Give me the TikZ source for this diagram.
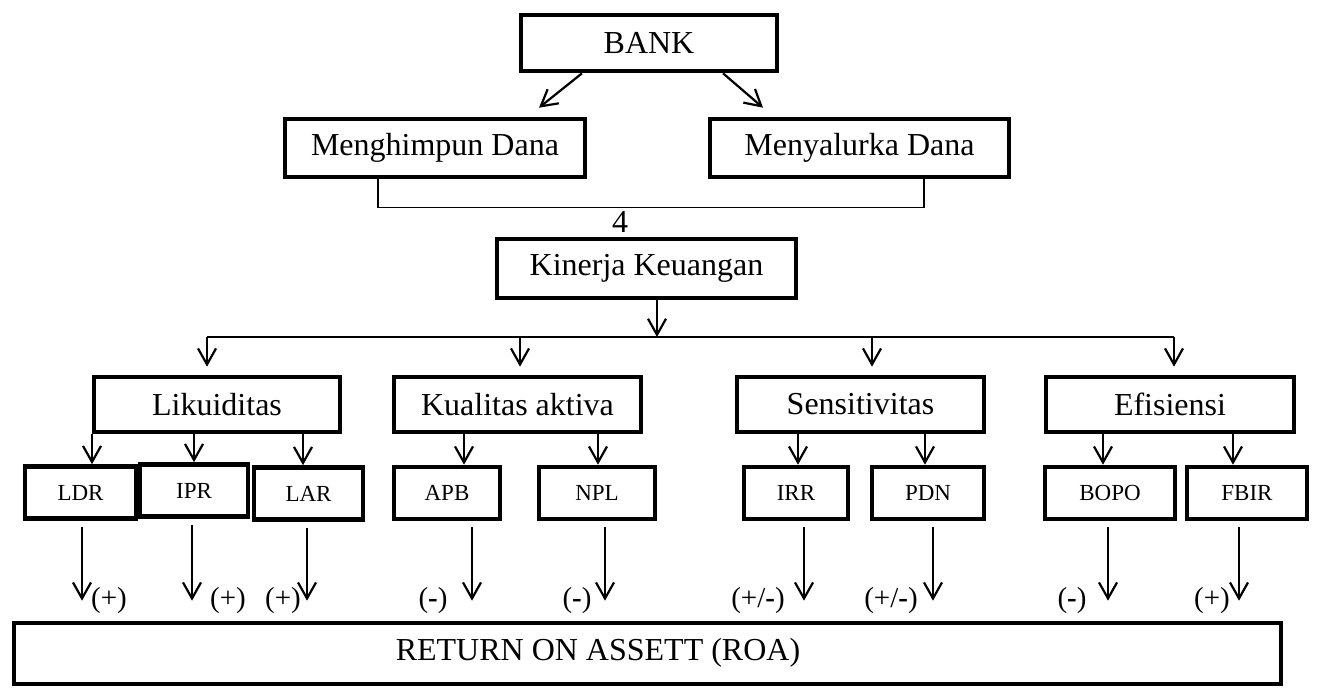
\documentclass[tikz,border=0pt]{standalone}
\usepackage{fontspec}
\setmainfont{Liberation Serif}
\usetikzlibrary{arrows.meta}
\tikzset{
    box/.style={draw,line width=2.3pt,inner sep=0pt,font=\fontsize{16}{18}\selectfont},
    smallbox/.style={box,minimum height=26pt,font=\fontsize{11.5}{13}\selectfont},
    arr/.style={line width=1.1pt,-{Straight Barb[length=8pt,width=9pt]}},
    sign/.style={inner sep=0pt,font=\fontsize{14.5}{16}\selectfont},
}
\newcommand{\drop}[3]{
    \draw[arr] (#2.south -| #1,0) -- (#3.north -| #1,0);
}
\newcommand{\effect}[5]{
    \draw[arr,shorten <=3pt,shorten >=10pt] (#2.south -| #1,0) -- (roa.north -| #1,0);
    \node[sign] (s#2) at (#3,#4) {#5};
}

\begin{document}
\begin{tikzpicture}[x=0.5pt,y=-0.5pt]
    \useasboundingbox (0,0) rectangle (1317,688);
    % top
    \node[box,minimum width=128pt,minimum height=28pt] (bank) at (649,43) {BANK};
    \node[box,minimum width=150pt,minimum height=29pt] (himpun) at (435,148) {Menghimpun Dana};
    \node[box,minimum width=149.5pt,minimum height=29pt] (salur) at (859.5,148) {Menyalurka Dana};
    \draw[arr] ([xshift=-33.5pt]bank.south) -- ([xshift=52pt,yshift=4.5pt]himpun.north);
    \draw[arr] ([xshift=37pt]bank.south) -- ([xshift=-48.25pt,yshift=4.5pt]salur.north);
    \draw[line width=0.6pt] ([xshift=-28.5pt]himpun.south) -- ++(0,-14pt) -| ([xshift=32.25pt]salur.south);
    \node[font=\fontsize{16}{18}\selectfont,inner sep=0pt] (four) at (620,222) {4};
    % kinerja
    \node[box,minimum width=149.5pt,minimum height=29.5pt] (kinerja) at (646.5,268.5) {Kinerja Keuangan};
    \coordinate (busL) at (207,337);
    \coordinate (busR) at (1174,337);
    \draw[line width=1.1pt] (busL) -- (busR);
    \draw[arr] (kinerja.south -| 657,0) -- (busL -| 657,0);
    \node[box,minimum width=123pt,minimum height=27.5pt] (likuid) at (217,404.5) {Likuiditas};
    \node[box,minimum width=123.5pt,minimum height=27.5pt] (kualitas) at (517.5,404.5) {Kualitas aktiva};
    \node[box,minimum width=123.5pt,minimum height=27.5pt] (sensi) at (860.5,404.5) {Sensitivitas};
    \node[box,minimum width=124pt,minimum height=27.5pt] (efisien) at (1170,404.5) {Efisiensi};
    \draw[arr,shorten >=4pt] (busL) -- (likuid.north -| busL);
    \draw[arr,shorten >=4pt] (busL -| 520,0) -- (kualitas.north -| 520,0);
    \draw[arr,shorten >=4pt] (busL -| 872,0) -- (sensi.north -| 872,0);
    \draw[arr,shorten >=4pt] (busR) -- (efisien.north -| busR);
    % rasio
    \node[smallbox,minimum width=55.5pt] (ldr) at (80.5,492.5) {LDR};
    \node[smallbox,minimum width=54pt] (ipr) at (194,490.5) {IPR};
    \node[smallbox,minimum width=54.5pt] (lar) at (308.5,493.5) {LAR};
    \node[smallbox,minimum width=53pt] (apb) at (447,493) {APB};
    \node[smallbox,minimum width=58pt] (npl) at (597,493) {NPL};
    \node[smallbox,minimum width=52pt] (irr) at (796,493) {IRR};
    \node[smallbox,minimum width=56pt] (pdn) at (928,493) {PDN};
    \node[smallbox,minimum width=65pt] (bopo) at (1110,493) {BOPO};
    \node[smallbox,minimum width=60pt] (fbir) at (1247,493) {FBIR};
    \drop{92}{likuid}{ldr}
    \drop{194}{likuid}{ipr}
    \drop{303}{likuid}{lar}
    \drop{464}{kualitas}{apb}
    \drop{598}{kualitas}{npl}
    \drop{798}{sensi}{irr}
    \drop{925}{sensi}{pdn}
    \drop{1103}{efisien}{bopo}
    \drop{1233}{efisien}{fbir}
    % ROA
    \node[box,minimum width=633.5pt,minimum height=30.5pt] (roa) at (647.5,653.5) {};
    \node[inner sep=0pt,font=\fontsize{16}{18}\selectfont] (roatext) at (598,653) {RETURN ON ASSETT (ROA)};
    \effect{82}{ldr}{109}{601}{(+)}
    \effect{192}{ipr}{228}{601}{(+)}
    \effect{307}{lar}{283}{601}{(+)}
    \effect{472}{apb}{433}{601}{(\textbf{-})}
    \effect{605}{npl}{577}{601}{(\textbf{-})}
    \effect{804}{irr}{758}{601}{(+/\textbf{-})}
    \effect{933}{pdn}{891}{601}{(+/\textbf{-})}
    \effect{1108}{bopo}{1072}{601}{(\textbf{-})}
    \effect{1239}{fbir}{1212}{601}{(+)}
\end{tikzpicture}
\end{document}
